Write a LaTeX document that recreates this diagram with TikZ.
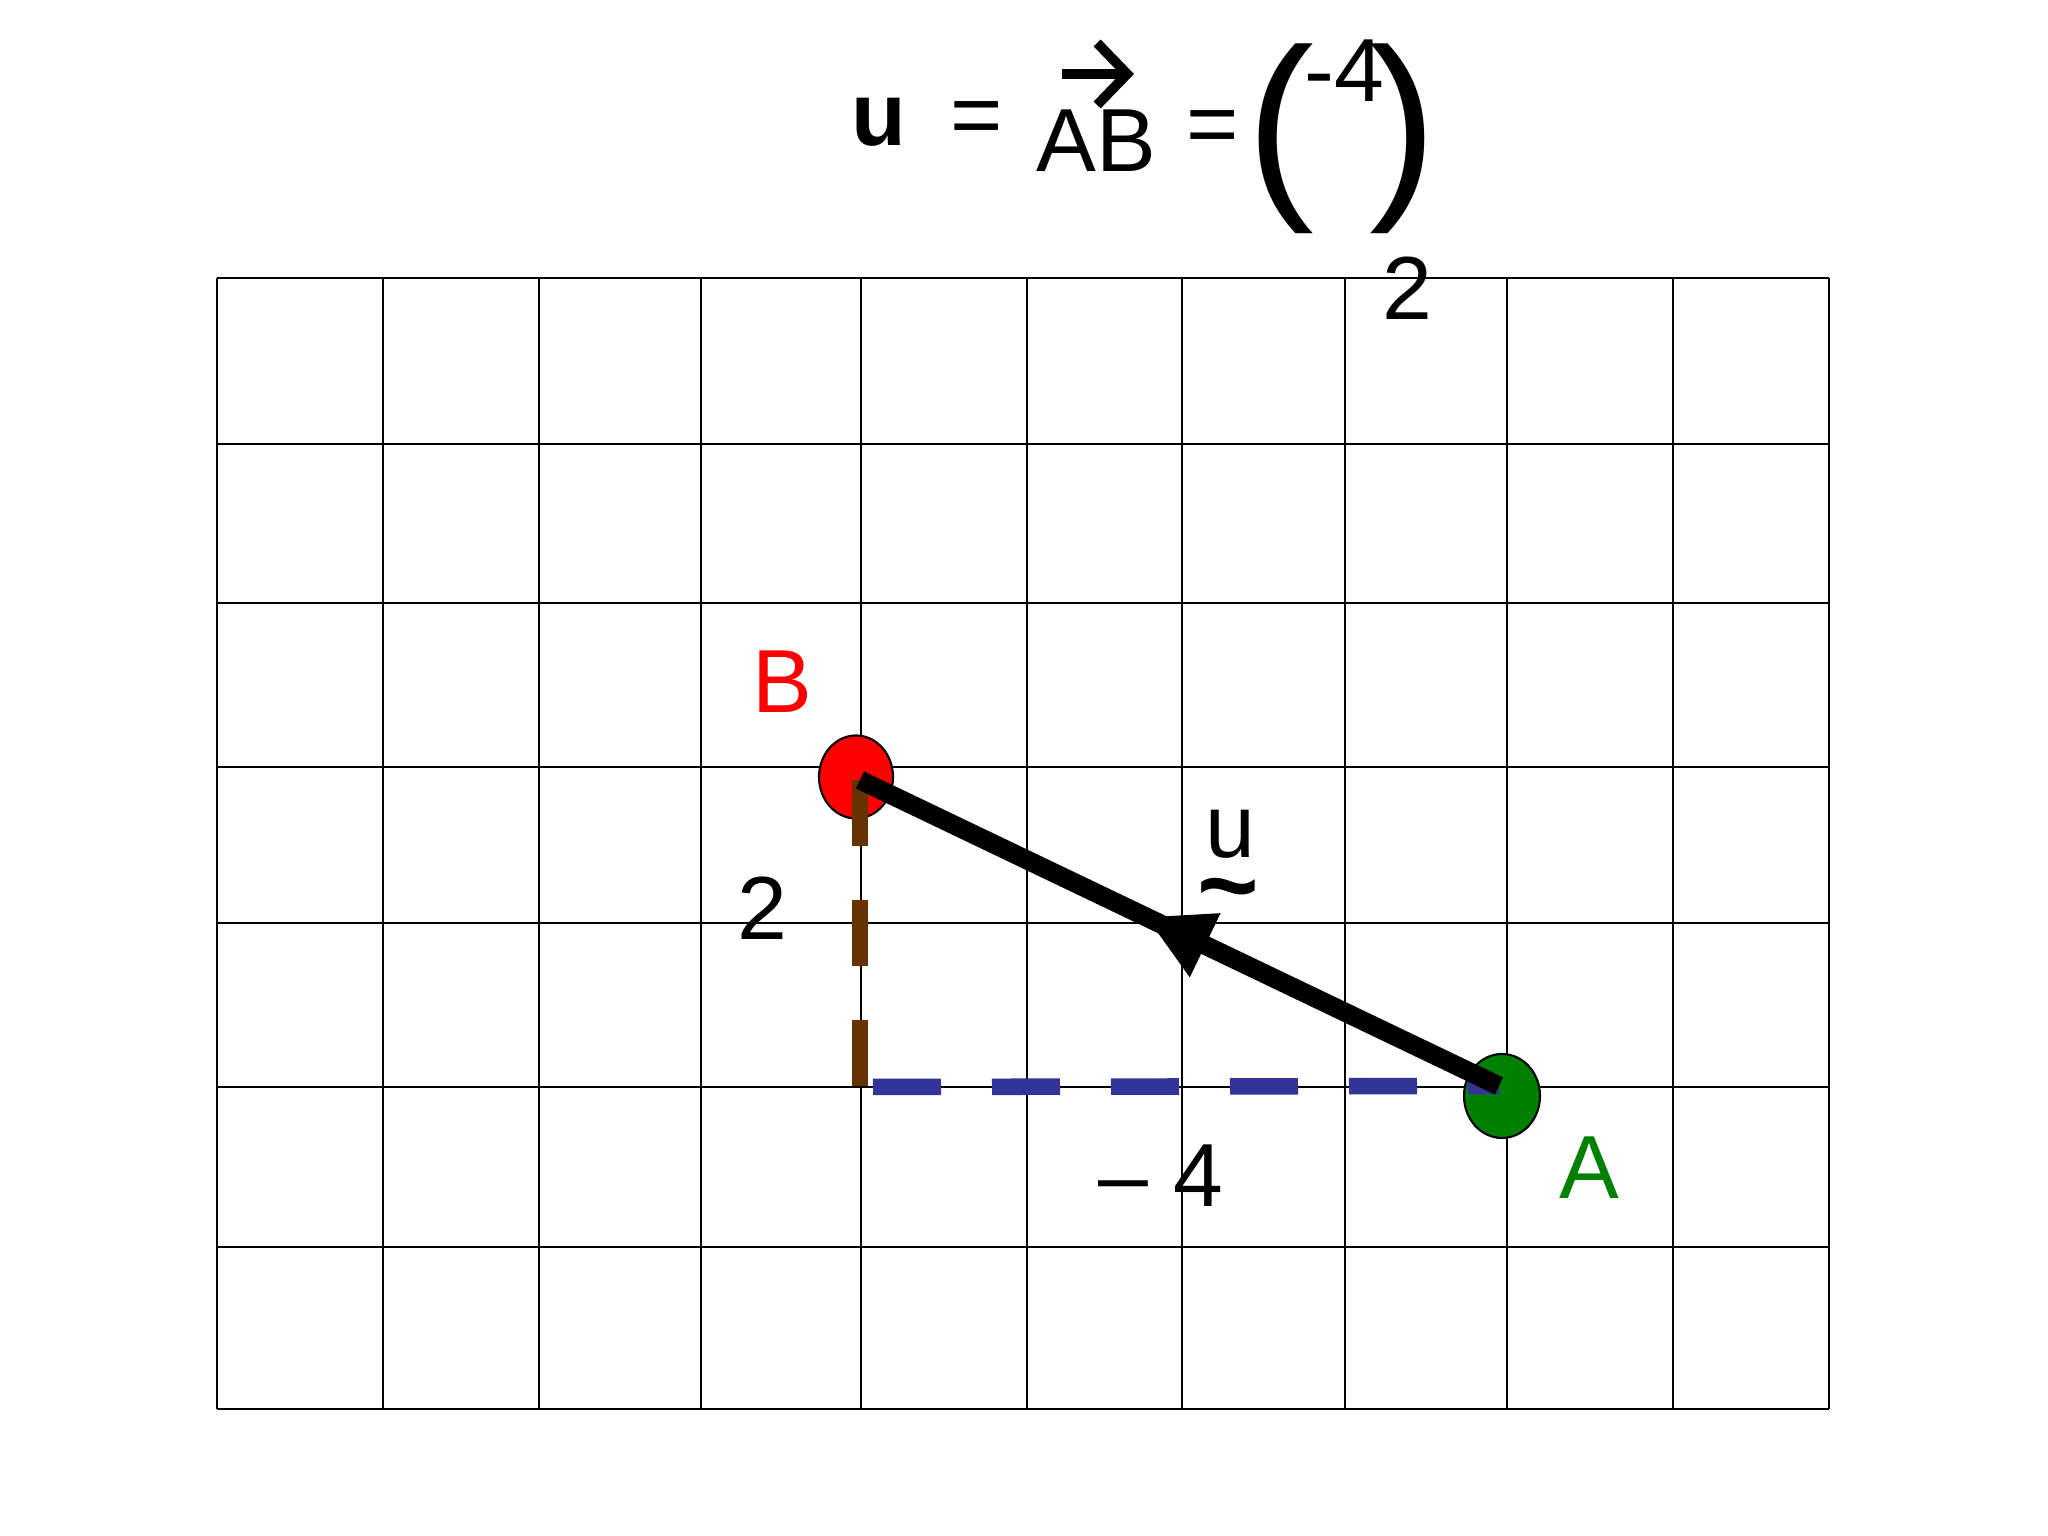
\documentclass[tikz,border=0pt]{standalone}
\usepackage{fontspec}
\setmainfont{Liberation Sans}
\usepackage{tikz}
\usetikzlibrary{calc, arrows.meta, decorations.markings}
\tikzset{>=latex}
\definecolor{mybrown}{RGB}{102, 51, 0}
\definecolor{myblue}{RGB}{51, 51, 153}
\definecolor{mygreen}{RGB}{0, 128, 0}
\tikzset{lbl/.style={inner sep=0, anchor=base, font=\fontsize{25.5}{30}\selectfont}}

\begin{document}
\begin{tikzpicture}
\useasboundingbox[fill=white] (0,0) rectangle (20.48,15.36);
% grid
\foreach \gx in {2.17,3.83,5.39,7.01,8.61,10.27,11.82,13.45,15.07,16.73,18.29}
  \draw[line width=0.5pt] (\gx,1.27) -- (\gx,12.58);
\foreach \gy in {1.27,2.89,4.49,6.13,7.69,9.33,10.92,12.58}
  \draw[line width=0.5pt] (2.17,\gy) -- (18.29,\gy);

\coordinate (A) at (14.99,4.50);
\coordinate (B) at (8.60,7.56);
\coordinate (C) at (8.60,4.49);

\draw[fill=red, line width=0.6pt] (8.56,7.59) ellipse [x radius=0.37, y radius=0.415];
\draw[fill=mygreen, line width=0.6pt] (15.02,4.40) ellipse [x radius=0.38, y radius=0.42];

\draw[mybrown, line width=4.7pt, dash pattern=on 0.66cm off 0.54cm] (B) -- (C);
\draw[myblue, line width=4.7pt, dash pattern=on 0.68cm off 0.51cm] ($(C)+(0.13,0)$) -- (A);
\draw[line width=5.4pt, postaction={decorate}, decoration={markings,
  mark=at position 0.553 with {\arrow{Triangle[length=0.66cm, width=0.66cm]}}}] (A) -- (B);

\node[lbl, red] (labB) at (7.82,8.23) {B};
\node[lbl, mygreen] (labA) at (15.89,3.37) {A};
\node[lbl] (lab2) at (7.62,5.96) {2};
\node[lbl] (labm4) at (11.61,3.29) {– 4};
\node[lbl] (labu) at (12.30,6.78) {u};
\node[lbl, font=\fontsize{30}{34}\selectfont\bfseries] (tld) at (12.28,6.14) {\textasciitilde};

% formula
\node[lbl, font=\fontsize{25.5}{30}\selectfont\bfseries] (uvec) at (8.79,13.90) {u};
\node[inner sep=0, font=\fontsize{25.5}{30}\selectfont] (eq1) at (9.77,14.12) {=};
\node[lbl] (AB) at (10.96,13.64) {AB};
\draw[line width=2.8pt, -{Straight Barb[length=0.3cm, width=0.62cm]}]
  ([xshift=-0.34cm, yshift=0.98cm]AB.base) -- ([xshift=0.38cm, yshift=0.98cm]AB.base);
\node[inner sep=0, font=\fontsize{25.5}{30}\selectfont] (eq2) at (12.13,14.03) {=};
\node[inner sep=0, font=\fontsize{58}{60}\selectfont] (lpar) at (12.80,13.97) {(};
\node[inner sep=0, font=\fontsize{58}{60}\selectfont] (rpar) at (14.03,13.97) {)};
\node[lbl] (top) at (13.44,14.34) {-4};
\node[lbl] (bot) at (14.07,12.16) {2};
\end{tikzpicture}
\end{document}
